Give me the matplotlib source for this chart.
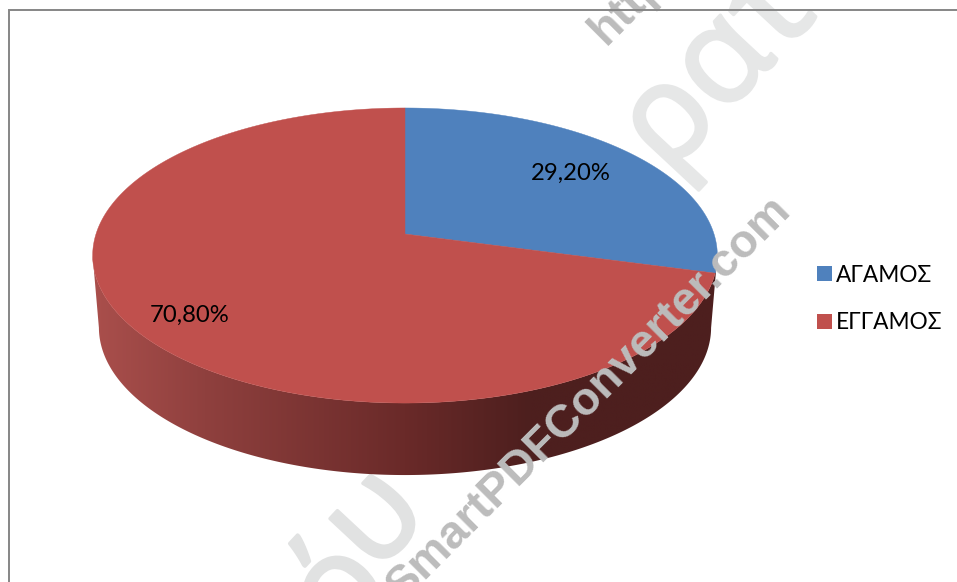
import numpy as np
import matplotlib
matplotlib.use('Agg')
from matplotlib import patheffects
from matplotlib import pyplot as plt
from matplotlib.colors import LinearSegmentedColormap
from matplotlib.patches import Patch, Polygon

labels = ['ΑΓΑΜΟΣ', 'ΕΓΓΑΜΟΣ']
shares = [29.20, 70.80]
colors = ['#4f81bd', '#c0504d']

plt.rcParams['font.family'] = ['Lato', 'Noto Sans', 'DejaVu Sans']

# pie geometry in pixels, top face seen in perspective
cx, cy = 405, 234
rx, ry, persp = 309, 144.4, 0.1458
depth = 72


def rim(theta, scale=1.0, shift=0):
    # theta runs clockwise from twelve o'clock
    x, y = np.sin(theta), np.cos(theta)
    w = 1 + persp * y
    return np.column_stack([cx + scale * rx * x / w, cy + shift - ry * y / w])


fig = plt.figure(figsize=(9.57, 5.82), dpi=100)
ax = fig.add_axes([0, 0, 1, 1])

# big pale lettering behind the chart, thickened a little with a stroke
pale = dict(fontsize=96, family='Open Sans', rotation=47,
            rotation_mode='anchor', ha='left', va='baseline', zorder=1)
far = ax.text(668, 176, 'ρατ', color='#e6e7e7', **pale)
far.set_path_effects([patheffects.withStroke(linewidth=2.5, foreground='#e6e7e7')])
for x0, y0, word in [(340, 647, 'ό'), (375, 575, 'υ')]:
    near = ax.text(x0, y0, word, color='#e1e2e2', **pale)
    near.set_path_effects([patheffects.withStroke(linewidth=2.5, foreground='#e1e2e2')])

# side wall, shaded from left to right
theta = np.linspace(0, 2 * np.pi, 721)
top = rim(theta)
bottom = rim(theta, scale=0.98, shift=depth)
right, left = np.argmax(top[:, 0]), np.argmin(top[:, 0])
wall = np.vstack([top[right:left + 1], bottom[left:right - 1:-1]])
wall_patch = Polygon(wall, closed=True, fc='none', ec='none', zorder=2)
ax.add_patch(wall_patch)
shade = LinearSegmentedColormap.from_list(
    'wall', [(0, '#aa4f4c'), (0.18, '#8f403e'), (0.5, '#6a2a29'), (0.7, '#4d1f1e'), (1, '#4d1f1e')])
img = ax.imshow(np.linspace(0, 1, 256)[None, :], cmap=shade, aspect='auto',
                extent=(cx - 313, cx + 313, 480, 250), zorder=2)
img.set_clip_path(wall_patch)

# top face
start = 0.0
for share, color in zip(shares, colors):
    stop = start + share / sum(shares) * 2 * np.pi
    arc = rim(np.linspace(start, stop, 300))
    ax.add_patch(Polygon(np.vstack([[cx, cy], arc]), closed=True, fc=color, ec=color, lw=0.3, zorder=3))
    start = stop

label_xy = [(570.5, 173), (190, 315)]
for share, (lx, ly) in zip(shares, label_xy):
    ax.text(lx, ly, f'{share:.2f}%'.replace('.', ','), fontsize=17.2, color='black',
            ha='center', va='center', zorder=4)

handles = [Patch(fc=c, ec='none') for c in colors]
ax.legend(handles, labels, loc='upper left', bbox_to_anchor=(808 / 957, 1 - 255.5 / 582), frameon=False,
          fontsize=16.3, handlelength=0.68, handleheight=0.68, handletextpad=0.16,
          labelspacing=1.19, borderpad=0.4, borderaxespad=0)

# converter stamp on top of everything
stamp = dict(color='#bcbcbc', fontsize=33.5, family='Liberation Sans', weight='bold', rotation=45,
             rotation_mode='anchor', ha='left', va='baseline', zorder=5)
ax.text(403, 602, 'SmartPDFConverter.com', **stamp)
ax.text(606, 46, 'http://www', **stamp)

# chart frame, open on the right and at the bottom
ax.plot([9, 9, 957], [582, 10, 10], color='#868686', lw=1.4, zorder=6, solid_joinstyle='miter')

ax.set_xlim(0, 957)
ax.set_ylim(582, 0)
ax.axis('off')

fig.savefig('out.png', dpi=100)
